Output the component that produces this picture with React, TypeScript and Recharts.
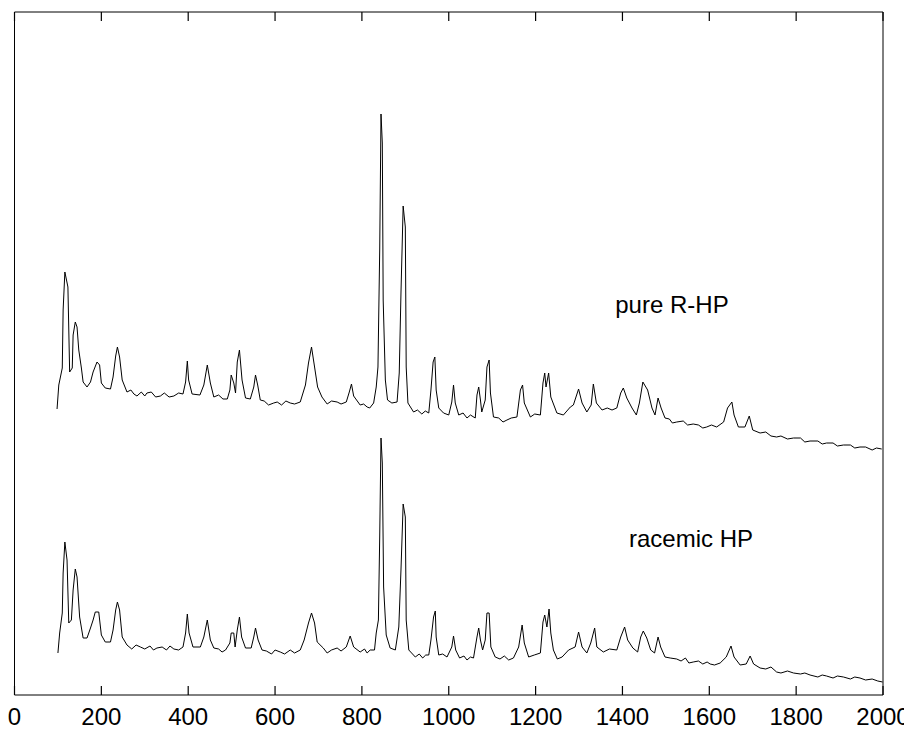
import React from 'react';
import { LineChart, Line, XAxis, YAxis, ReferenceDot, ReferenceArea } from 'recharts';

// Raman shift (cm-1) vs intensity (arb. units)
const pureRHP: [number, number][] = [
  [98, 286], [102, 310], [110, 327], [112, 385], [116, 423], [123, 408], [127, 323], [133, 327],
  [135, 360], [140, 373], [144, 368], [148, 345], [154, 327], [158, 313], [167, 308], [175, 313],
  [181, 323], [190, 333], [196, 330], [200, 312], [209, 307], [221, 306], [227, 318], [233, 339],
  [237, 348], [242, 338], [248, 315], [259, 303], [268, 305], [275, 301], [282, 299], [292, 303],
  [300, 299], [305, 302], [315, 303], [325, 298], [336, 299], [345, 302], [356, 298], [367, 299],
  [378, 302], [388, 301], [394, 313], [398, 334], [401, 315], [409, 301], [427, 300], [436, 310],
  [444, 330], [451, 312], [459, 298], [470, 300], [480, 296], [490, 296], [496, 305], [499, 320],
  [505, 312], [509, 302], [513, 333], [518, 345], [524, 315], [532, 297], [543, 296], [551, 308],
  [555, 320], [560, 310], [566, 295], [575, 294], [585, 290], [597, 292], [605, 293], [615, 290],
  [625, 294], [635, 292], [645, 291], [658, 293], [670, 310], [677, 332], [684, 348], [691, 328],
  [698, 308], [708, 298], [720, 291], [730, 294], [743, 293], [752, 291], [764, 293], [771, 303],
  [776, 311], [781, 299], [796, 290], [804, 291], [812, 288], [818, 287], [827, 292], [833, 308],
  [837, 328], [841, 445], [844, 581], [847, 552], [849, 395], [854, 315], [859, 295], [869, 292],
  [881, 293], [886, 322], [890, 402], [895, 489], [900, 468], [902, 328], [906, 292], [919, 283],
  [928, 285], [938, 281], [946, 284], [954, 282], [959, 305], [964, 333], [968, 338], [971, 305],
  [977, 287], [988, 282], [1000, 280], [1007, 293], [1011, 310], [1015, 292], [1023, 280], [1033, 282],
  [1042, 277], [1050, 280], [1061, 277], [1065, 300], [1069, 308], [1073, 295], [1076, 283], [1084, 295],
  [1088, 328], [1093, 335], [1096, 302], [1103, 278], [1115, 277], [1125, 273], [1134, 275], [1144, 277],
  [1157, 278], [1165, 305], [1170, 310], [1174, 292], [1188, 278], [1198, 281], [1211, 280], [1217, 312],
  [1221, 322], [1224, 308], [1230, 322], [1235, 298], [1249, 282], [1264, 280], [1280, 288], [1287, 290],
  [1299, 306], [1307, 292], [1318, 283], [1328, 290], [1333, 311], [1340, 292], [1353, 285], [1365, 287],
  [1376, 285], [1387, 287], [1396, 302], [1402, 307], [1410, 297], [1422, 287], [1432, 280], [1439, 292],
  [1447, 313], [1458, 305], [1468, 287], [1475, 280], [1482, 297], [1489, 287], [1498, 277], [1508, 276],
  [1515, 272], [1525, 273], [1540, 274], [1550, 270], [1563, 271], [1575, 270], [1585, 267], [1594, 268],
  [1605, 270], [1617, 268], [1633, 273], [1642, 287], [1652, 293], [1657, 280], [1667, 268], [1682, 268],
  [1692, 279], [1700, 265], [1717, 262], [1730, 263], [1742, 259], [1755, 258], [1765, 259], [1780, 256],
  [1794, 257], [1810, 257], [1820, 253], [1832, 254], [1850, 254], [1860, 251], [1870, 252], [1885, 252],
  [1895, 249], [1909, 250], [1925, 250], [1935, 247], [1947, 248], [1960, 248], [1975, 245], [1985, 247],
  [1997, 246],
];

const racemicHP: [number, number][] = [
  [100, 42], [104, 62], [110, 82], [112, 122], [116, 153], [121, 135], [125, 72], [131, 75],
  [135, 105], [140, 126], [144, 118], [150, 78], [158, 57], [167, 57], [175, 67], [181, 75],
  [186, 83], [194, 83], [200, 60], [209, 53], [221, 53], [227, 65], [233, 85], [237, 93],
  [242, 85], [248, 58], [259, 50], [270, 46], [280, 50], [290, 48], [300, 46], [312, 49],
  [320, 45], [328, 47], [340, 48], [350, 45], [358, 49], [367, 46], [378, 45], [388, 48],
  [394, 62], [398, 81], [402, 62], [411, 48], [428, 48], [436, 58], [444, 75], [451, 55],
  [459, 47], [470, 46], [478, 43], [486, 45], [496, 52], [499, 62], [505, 62], [508, 48],
  [513, 65], [518, 78], [523, 58], [532, 47], [545, 47], [551, 58], [555, 67], [561, 55],
  [570, 45], [580, 44], [592, 41], [600, 45], [612, 43], [622, 41], [635, 45], [645, 42],
  [658, 45], [667, 55], [677, 72], [684, 82], [691, 72], [697, 53], [711, 47], [720, 42],
  [730, 45], [743, 47], [752, 44], [764, 48], [773, 59], [781, 48], [796, 43], [806, 46],
  [812, 42], [819, 45], [829, 45], [833, 62], [838, 75], [841, 158], [844, 257], [847, 232],
  [850, 108], [856, 60], [865, 47], [877, 45], [885, 68], [890, 125], [895, 191], [900, 178],
  [902, 75], [908, 45], [923, 38], [932, 41], [940, 37], [947, 40], [954, 40], [959, 55],
  [965, 78], [969, 84], [971, 58], [977, 40], [986, 41], [996, 38], [1007, 48], [1011, 59],
  [1016, 45], [1025, 37], [1035, 39], [1042, 35], [1050, 38], [1057, 37], [1065, 58], [1069, 67],
  [1073, 55], [1078, 45], [1084, 55], [1088, 82], [1093, 82], [1097, 48], [1107, 38], [1118, 36],
  [1128, 39], [1138, 35], [1149, 37], [1161, 48], [1169, 70], [1174, 52], [1184, 38], [1197, 40],
  [1211, 42], [1217, 73], [1221, 80], [1226, 68], [1231, 86], [1235, 62], [1241, 45], [1250, 36],
  [1261, 38], [1276, 45], [1291, 48], [1299, 63], [1307, 48], [1318, 42], [1327, 52], [1336, 67],
  [1341, 48], [1356, 43], [1370, 46], [1387, 45], [1396, 58], [1405, 68], [1412, 55], [1424, 47],
  [1435, 43], [1442, 58], [1448, 64], [1456, 57], [1465, 45], [1474, 42], [1482, 58], [1488, 48],
  [1498, 38], [1510, 37], [1525, 36], [1535, 34], [1545, 37], [1553, 32], [1563, 33], [1575, 34],
  [1585, 31], [1595, 33], [1602, 31], [1612, 30], [1625, 32], [1639, 38], [1650, 49], [1657, 38],
  [1671, 30], [1685, 31], [1694, 39], [1702, 31], [1717, 27], [1730, 26], [1742, 28], [1755, 23],
  [1765, 22], [1780, 24], [1794, 22], [1810, 21], [1820, 22], [1832, 20], [1850, 18], [1860, 20],
  [1870, 19], [1885, 17], [1895, 19], [1909, 18], [1925, 16], [1935, 18], [1947, 17], [1960, 15],
  [1975, 16], [1988, 14], [1999, 13],
];

const xTicks = [0, 200, 400, 600, 800, 1000, 1200, 1400, 1600, 1800, 2000];
const Y_MAX = 683;
const labelText = ['pure R-HP', 'racemic HP'];
const labelX = [1514, 1558];
const labelY = [382, 148];

const FONT = '"Liberation Sans", Arial, Helvetica, sans-serif';
const PLOT_TOP = 4;
const TICK_LEN = 9;

const toRows = (pts: [number, number][]) => pts.map(([x, y]) => ({ x, y }));

// inward tick marks on bottom and top edge, label below
const FrameTick = (props: any) => {
  const { x, y, payload } = props;
  return (
    <g>
      <path d={`M${x},${y}V${y - TICK_LEN}`} stroke="#000" strokeWidth={1.2} fill="none" />
      <path d={`M${x},${PLOT_TOP}V${PLOT_TOP + TICK_LEN}`} stroke="#000" strokeWidth={1.2} fill="none" />
      <text x={x} y={y + 30} textAnchor="middle" fontSize={24} fontFamily={FONT} fill="#000">
        {payload.value}
      </text>
    </g>
  );
};

export default function App() {
  return (
    <div style={{ width: 904, height: 721, background: '#fff' }}>
      <LineChart width={904} height={721} margin={{ top: PLOT_TOP, right: 29, left: 6.5, bottom: 0 }}>
        <XAxis
          dataKey="x"
          type="number"
          domain={[0, 2000]}
          ticks={xTicks}
          allowDataOverflow
          height={34}
          tickSize={0}
          tickMargin={0}
          tickLine={false}
          tick={<FrameTick />}
          axisLine={false}
          interval={0}
        />
        <YAxis type="number" domain={[0, Y_MAX]} hide />
        <ReferenceArea
          x1={0}
          x2={2000}
          y1={0}
          y2={Y_MAX}
          fill="none"
          fillOpacity={0}
          stroke="#000"
          strokeWidth={1}
          ifOverflow="visible"
        />
        <Line
          data={toRows(pureRHP)}
          dataKey="y"
          type="linear"
          stroke="#000"
          strokeWidth={1}
          dot={false}
          isAnimationActive={false}
        />
        <Line
          data={toRows(racemicHP)}
          dataKey="y"
          type="linear"
          stroke="#000"
          strokeWidth={1}
          dot={false}
          isAnimationActive={false}
        />
        {labelText.map((t, i) => (
          <ReferenceDot
            key={t}
            x={labelX[i]}
            y={labelY[i]}
            r={0}
            fill="none"
            stroke="none"
            label={(p: any) => (
              <text
                x={p.viewBox.x}
                y={p.viewBox.y}
                textAnchor="middle"
                fontSize={24}
                fontFamily={FONT}
                fill="#000"
              >
                {t}
              </text>
            )}
          />
        ))}
      </LineChart>
    </div>
  );
}
